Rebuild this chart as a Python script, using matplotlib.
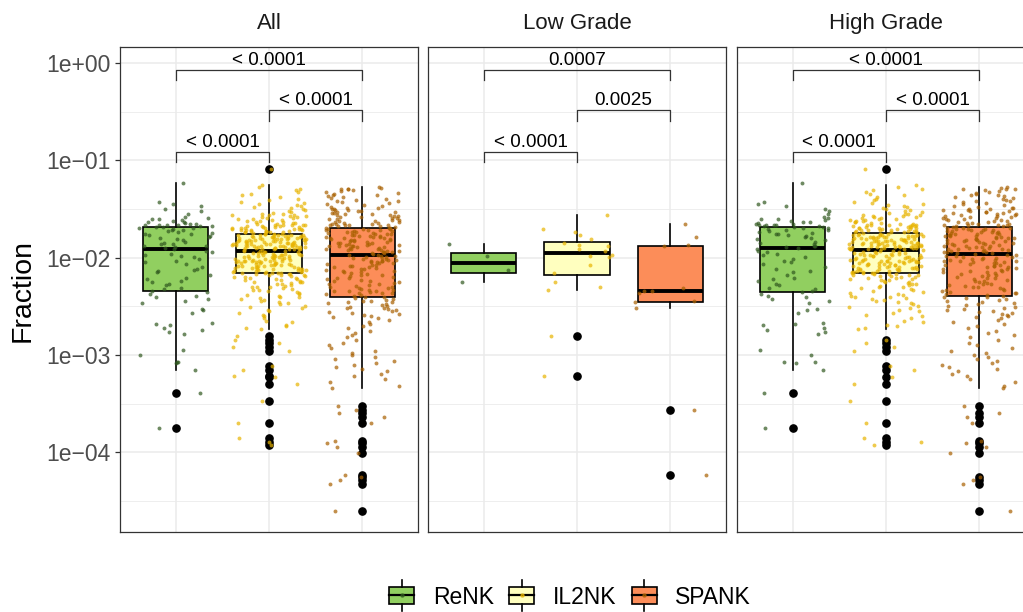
import numpy as np
import matplotlib
matplotlib.use("Agg")
import matplotlib.pyplot as plt
from matplotlib import cbook
from matplotlib.legend_handler import HandlerBase
from matplotlib.patches import Rectangle
from matplotlib.lines import Line2D
from matplotlib.ticker import FixedLocator, FixedFormatter, NullFormatter

plt.rcParams['font.family'] = ['Liberation Sans', 'DejaVu Sans']

# ---------------- data (log10 of Fraction) ----------------
facets = ["All", "Low Grade", "High Grade"]
groups = ["ReNK", "IL2NK", "SPANK"]

renk_low_log10 = [-2.25, -2.13, -1.98, -1.86]
il2nk_low_log10 = [-3.22, -2.81, -2.33, -2.30, -2.25, -2.16, -2.08, -1.99, -1.98, -1.97,
                   -1.93, -1.91, -1.88, -1.87, -1.85, -1.81, -1.77, -1.74, -1.71, -1.56]
spank_low_log10 = [-4.23, -3.57, -2.52, -2.46, -2.45, -2.36, -2.34, -2.34, -2.31, -1.88,
                   -1.87, -1.79, -1.65]

renk_high_log10 = [
    -3.75, -3.39, -3.15, -3.08, -3.07, -3.07, -3.00, -2.95,
    -2.78, -2.76, -2.74, -2.72, -2.69, -2.68, -2.67, -2.57, -2.54, -2.53,
    -2.47, -2.45, -2.43, -2.41, -2.39, -2.37,
    -2.35,
    -2.34, -2.32, -2.31, -2.28, -2.27, -2.24, -2.22, -2.21, -2.18, -2.15, -2.14, -2.12,
    -2.10, -2.07, -2.05, -2.04, -2.01, -1.99, -1.97, -1.96, -1.94, -1.93, -1.91,
    -1.90,
    -1.89, -1.88, -1.88, -1.86, -1.85, -1.84, -1.82, -1.81, -1.80, -1.79, -1.78, -1.77,
    -1.76, -1.76, -1.75, -1.74, -1.73, -1.72, -1.72, -1.71, -1.70, -1.70, -1.69,
    -1.69,
    -1.68, -1.68, -1.67, -1.67, -1.66, -1.66, -1.65, -1.65, -1.64, -1.63, -1.63, -1.62,
    -1.61, -1.60, -1.60, -1.59, -1.58, -1.55, -1.52, -1.50, -1.47, -1.45, -1.43, -1.23]

il2nk_high_log10 = [
    -3.93, -3.89, -3.85, -3.70, -3.47, -3.30, -3.23, -3.16, -3.11, -2.96, -2.92, -2.88, -2.85, -2.73,
    -2.72, -2.70, -2.69, -2.66, -2.65, -2.62, -2.60, -2.59, -2.57, -2.55,
    -2.54, -2.52, -2.51, -2.50, -2.48, -2.47, -2.46, -2.45, -2.44, -2.43,
    -2.42, -2.41, -2.40, -2.39, -2.38, -2.37, -2.36, -2.35, -2.34, -2.33,
    -2.32, -2.31, -2.30, -2.30, -2.29, -2.28, -2.27, -2.27, -2.26, -2.25,
    -2.25, -2.24, -2.23, -2.23, -2.22, -2.22, -2.21, -2.21, -2.20, -2.20,
    -2.19, -2.19, -2.18, -2.18, -2.18, -2.17, -2.17, -2.17, -2.16, -2.16, -2.16,
    -2.16,
    -2.15, -2.15, -2.15, -2.14, -2.14, -2.14, -2.13, -2.13, -2.13, -2.12,
    -2.12, -2.12, -2.12, -2.11, -2.11, -2.11, -2.10, -2.10, -2.10, -2.09,
    -2.09, -2.09, -2.09, -2.08, -2.08, -2.08, -2.07, -2.07, -2.07, -2.06,
    -2.06, -2.06, -2.06, -2.05, -2.05, -2.05, -2.04, -2.04, -2.04, -2.03,
    -2.03, -2.03, -2.03, -2.02, -2.02, -2.02, -2.01, -2.01, -2.01, -2.00,
    -2.00, -2.00, -2.00, -1.99, -1.99, -1.99, -1.98, -1.98, -1.98, -1.97,
    -1.97, -1.97, -1.97, -1.96, -1.96, -1.96, -1.95, -1.95, -1.95, -1.94,
    -1.94, -1.94, -1.93, -1.93,
    -1.92,
    -1.91, -1.91, -1.91, -1.91, -1.91, -1.90, -1.90, -1.90, -1.90, -1.89,
    -1.89, -1.89, -1.89, -1.89, -1.88, -1.88, -1.88, -1.88, -1.88, -1.87,
    -1.87, -1.87, -1.87, -1.86, -1.86, -1.86, -1.86, -1.86, -1.85, -1.85,
    -1.85, -1.85, -1.85, -1.84, -1.84, -1.84, -1.84, -1.83, -1.83, -1.83,
    -1.83, -1.83, -1.82, -1.82, -1.82, -1.82, -1.82, -1.81, -1.81, -1.81,
    -1.81, -1.80, -1.80, -1.80, -1.80, -1.80, -1.79, -1.79, -1.79, -1.79,
    -1.79, -1.78, -1.78, -1.78, -1.78, -1.77, -1.77, -1.77, -1.77, -1.77,
    -1.76, -1.76, -1.76, -1.76,
    -1.75,
    -1.74, -1.74, -1.74, -1.74, -1.73, -1.73, -1.73, -1.73, -1.72, -1.72,
    -1.72, -1.72, -1.71, -1.71, -1.71, -1.70, -1.70, -1.70, -1.70, -1.69,
    -1.69, -1.69, -1.68, -1.68, -1.68, -1.67, -1.67, -1.66, -1.66, -1.66,
    -1.65, -1.65, -1.64, -1.64, -1.63, -1.63, -1.62, -1.62, -1.61, -1.61,
    -1.60, -1.60, -1.59, -1.59, -1.58, -1.58, -1.57, -1.57, -1.56, -1.56,
    -1.55, -1.55, -1.54, -1.53, -1.52, -1.51, -1.50, -1.49,
    -1.48, -1.47, -1.46, -1.45, -1.44, -1.43, -1.41, -1.40, -1.38, -1.36,
    -1.35, -1.33, -1.31, -1.29, -1.27, -1.25, -1.09]

spank_high_log10 = [
    -4.60, -4.33, -4.29, -4.25, -4.01, -3.95, -3.91, -3.88, -3.70, -3.64, -3.60, -3.52, -3.34,
    -3.32, -3.28, -3.25, -3.22, -3.20, -3.17, -3.14, -3.12, -3.10, -3.08, -3.06, -3.04, -3.02, -3.00, -2.98,
    -2.96, -2.93, -2.90, -2.88, -2.85, -2.82, -2.80, -2.77, -2.75, -2.72, -2.70, -2.68, -2.66, -2.64, -2.62,
    -2.61, -2.60, -2.59, -2.58, -2.57, -2.56, -2.55, -2.54, -2.53, -2.52, -2.51,
    -2.50, -2.49, -2.48, -2.47, -2.46, -2.45, -2.44, -2.43, -2.42, -2.41, -2.40,
    -2.39,
    -2.38, -2.37, -2.36, -2.36, -2.35, -2.34, -2.33, -2.33, -2.32, -2.31,
    -2.30, -2.30, -2.29, -2.28, -2.27, -2.27, -2.26, -2.25, -2.24, -2.24,
    -2.23, -2.22, -2.21, -2.21, -2.20, -2.19, -2.18, -2.18, -2.17, -2.16,
    -2.15, -2.15, -2.14, -2.14, -2.13, -2.12, -2.12, -2.11, -2.10, -2.10,
    -2.09, -2.09, -2.08, -2.08, -2.07, -2.06, -2.06, -2.05, -2.05, -2.04,
    -2.04, -2.03, -2.02, -2.02, -2.01, -2.01, -2.00, -2.00, -1.99, -1.99,
    -1.98, -1.98, -1.97, -1.97,
    -1.96,
    -1.95, -1.95, -1.94, -1.94, -1.94, -1.93, -1.93, -1.92, -1.92, -1.91,
    -1.91, -1.91, -1.90, -1.90, -1.89, -1.89, -1.88, -1.88, -1.88, -1.87,
    -1.87, -1.86, -1.86, -1.85, -1.85, -1.85, -1.84, -1.84, -1.83, -1.83,
    -1.82, -1.82, -1.82, -1.81, -1.81, -1.80, -1.80, -1.80, -1.79, -1.79,
    -1.78, -1.78, -1.78, -1.77, -1.77, -1.76, -1.76, -1.76, -1.75, -1.75,
    -1.74, -1.74, -1.74, -1.73, -1.73, -1.72, -1.72, -1.72, -1.71, -1.71,
    -1.71, -1.70, -1.70, -1.70,
    -1.69,
    -1.68, -1.68, -1.67, -1.67, -1.66, -1.66, -1.65, -1.65, -1.64, -1.64,
    -1.63, -1.63, -1.62, -1.62, -1.61, -1.61, -1.60, -1.60, -1.59, -1.59,
    -1.58, -1.58, -1.57, -1.57, -1.56, -1.56, -1.55, -1.55, -1.54, -1.54,
    -1.53, -1.53, -1.52, -1.52, -1.51, -1.51, -1.50, -1.50, -1.49, -1.49,
    -1.48, -1.47, -1.46, -1.45, -1.44, -1.43, -1.42, -1.42, -1.41, -1.40,
    -1.39, -1.38, -1.37, -1.36, -1.36, -1.35, -1.34, -1.33, -1.32, -1.31,
    -1.30, -1.30, -1.29, -1.28, -1.27]

comparisons = [(1, 2), (2, 3), (1, 3)]
p_labels = {
    "All": ["< 0.0001", "< 0.0001", "< 0.0001"],
    "Low Grade": ["< 0.0001", "0.0025", "0.0007"],
    "High Grade": ["< 0.0001", "< 0.0001", "< 0.0001"],
}
y_ticks = [1e0, 1e-1, 1e-2, 1e-3, 1e-4]
y_tick_labels = ["1e+00", "1e\u221201", "1e\u221202", "1e\u221203", "1e\u221204"]

low = {"ReNK": renk_low_log10, "IL2NK": il2nk_low_log10, "SPANK": spank_low_log10}
high = {"ReNK": renk_high_log10, "IL2NK": il2nk_high_log10, "SPANK": spank_high_log10}
panel_data = {
    "All": {g: 10 ** np.array(low[g] + high[g]) for g in groups},
    "Low Grade": {g: 10 ** np.array(low[g]) for g in groups},
    "High Grade": {g: 10 ** np.array(high[g]) for g in groups},
}

# ---------------- style ----------------
fills = {"ReNK": "#91CF60", "IL2NK": "#FFFFBF", "SPANK": "#FC8D59"}
dots = {"ReNK": "#30581F", "IL2NK": "#E8B400", "SPANK": "#A86000"}
W, H = 1023, 612
panel_left_px = [120, 428, 737]
panel_w_px, top_px, bot_px = 298, 47, 532
bracket_levels = [-0.912, -0.486, -0.069]   # log10 positions of the brackets
tip = 0.107
grid_c = "#EBEBEB"


def jitter(n, seed):
    i = np.arange(n)
    v = np.sin(i * 12.9898 + seed * 78.233) * 43758.5453
    return v - np.floor(v)


fig = plt.figure(figsize=(W / 100, H / 100), dpi=100)

for fi, facet in enumerate(facets):
    ax = fig.add_axes([panel_left_px[fi] / W, 1 - bot_px / H,
                       panel_w_px / W, (bot_px - top_px) / H])
    ax.set_yscale("log")
    ax.set_xlim(0.4, 3.6)
    ax.set_ylim(10 ** -4.82, 10 ** 0.1644)
    ax.set_axisbelow(True)

    for gi, g in enumerate(groups):
        vals = panel_data[facet][g]
        st = cbook.boxplot_stats(np.log10(vals), whis=1.5)[0]
        for k in ["med", "q1", "q3", "whislo", "whishi", "mean", "cilo", "cihi"]:
            st[k] = 10 ** st[k]
        st["fliers"] = 10 ** np.asarray(st["fliers"])
        ax.bxp([st], positions=[gi + 1], widths=0.7, patch_artist=True,
               showcaps=False, showfliers=True, manage_ticks=False,
               boxprops=dict(facecolor=fills[g], edgecolor="black", linewidth=1.2),
               whiskerprops=dict(color="black", linewidth=1.2),
               medianprops=dict(color="black", linewidth=2.8, solid_capstyle="butt"),
               flierprops=dict(marker="o", markerfacecolor="black",
                               markeredgecolor="black", markersize=5.2),
               zorder=2)
        xj = gi + 1 + (jitter(len(vals), fi * 3 + gi + 1) - 0.5) * 0.8
        ax.scatter(xj, vals, s=8, color=dots[g], alpha=0.7, linewidths=0, zorder=3)

    # significance brackets
    for (a, b), lev, lab in zip(comparisons, bracket_levels, p_labels[facet]):
        y = 10 ** lev
        yt = 10 ** (lev - tip)
        ax.plot([a, a, b, b], [yt, y, y, yt], color="#333333", lw=0.9, zorder=5)
        ax.text((a + b) / 2, 10 ** (lev + 0.051), lab, ha="center", va="baseline",
                fontsize=13.6, color="black", zorder=6)

    # axes cosmetics
    ax.yaxis.set_major_locator(FixedLocator(y_ticks))
    ax.yaxis.set_major_formatter(FixedFormatter(y_tick_labels))
    ax.yaxis.set_minor_locator(FixedLocator([10 ** (-0.5 - k) for k in range(5)]))
    ax.yaxis.set_minor_formatter(NullFormatter())
    ax.set_xticks([1, 2, 3])
    ax.set_xticklabels([])
    ax.tick_params(axis="x", length=0)
    ax.tick_params(axis="y", which="minor", length=0)
    if fi == 0:
        ax.tick_params(axis="y", which="major", length=3.6, width=0.9, color="#333333",
                       pad=2.9, labelsize=16.5, labelcolor="#4D4D4D")
    else:
        ax.tick_params(axis="y", which="major", length=0, labelleft=False)
    ax.grid(which="major", color=grid_c, lw=1.1)
    ax.grid(which="minor", axis="y", color=grid_c, lw=0.6)
    for sp in ax.spines.values():
        sp.set_color("#333333")
        sp.set_linewidth(0.9)
    ax.text(0.5, 1 + (top_px - 29) / (bot_px - top_px), facet, transform=ax.transAxes,
            ha="center", va="baseline", fontsize=16, color="#1A1A1A")

fig.text(23 / W, 1 - 290.5 / H, "Fraction", rotation=90, ha="center", va="center",
         fontsize=20.5, color="black")


class BoxKeyHandler(HandlerBase):
    def __init__(self, face, dot):
        super().__init__()
        self.face = face
        self.dot = dot

    def create_artists(self, legend, orig_handle, xdescent, ydescent, width, height,
                       fontsize, trans):
        x0 = -xdescent
        cx = x0 + width / 2
        cy = -ydescent + height / 2
        bh = 12.0
        wl = 5.0
        rect = Rectangle((x0, cy - bh / 2), width, bh, facecolor=self.face,
                         edgecolor="black", lw=1.2, transform=trans)
        med = Line2D([x0, x0 + width], [cy, cy], color="black", lw=1.6, transform=trans)
        w1 = Line2D([cx, cx], [cy + bh / 2, cy + bh / 2 + wl], color="black", lw=1.2,
                    transform=trans)
        w2 = Line2D([cx, cx], [cy - bh / 2 - wl, cy - bh / 2], color="black", lw=1.2,
                    transform=trans)
        d = Line2D([cx], [cy], marker="o", markersize=2.2, color=self.dot, alpha=0.7,
                   lw=0, transform=trans)
        return [rect, med, w1, w2, d]


handles = [Rectangle((0, 0), 1, 1, facecolor=fills[g]) for g in groups]
hmap = {h: BoxKeyHandler(fills[g], dots[g]) for h, g in zip(handles, groups)}
fig.legend(handles, groups, handler_map=hmap, loc="center",
           bbox_to_anchor=(570 / W, 1 - 597 / H), ncol=3, frameon=False,
           fontsize=16.5, handlelength=1.09, handleheight=0.7, handletextpad=0.8,
           columnspacing=0.68, borderaxespad=0, borderpad=0)

fig.savefig("out.png", dpi=100)
